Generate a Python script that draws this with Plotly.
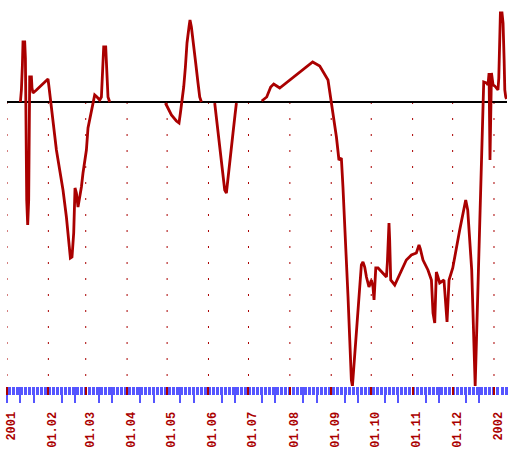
import pandas as pd
import plotly.graph_objects as go

START = pd.Timestamp("2001-01-01")

# Day offsets from 2001-01-01 and index values (None marks a gap in the data)
day_offsets = [
    10.04, 10.79, 11.54, 11.99, 13.27, 13.79, 14.02, 14.77, 15.51, 16.26, 17.01,
    18.29, 18.74, 19.49, 22.04, 25.78, 29.53, 30.73, 31.48, 32.53, 34.48, 37.03,
    39.50, 41.97, 44.52, 46.47, 47.52, 48.72, 49.99, 50.97, 52.02, 53.22, 54.49,
    55.76, 56.96, 59.51, 60.71, 62.51, 64.46, 65.73, 67.46, 69.48, 70.75, 71.50,
    72.48, 73.98, 74.50, 75.70, 76.97,
    100.0,
    118.72, 120.67, 123.22, 126.97, 128.92, 129.97, 131.17, 132.44, 133.71,
    134.91, 136.41, 137.16, 138.21, 139.41, 141.43, 143.16, 144.43, 145.71,
    150.0,
    155.67, 156.95, 158.15, 159.42, 160.69, 161.89, 163.17, 164.44, 164.89,
    166.16, 167.66, 169.39, 170.89, 171.94,
    180.0,
    190.9, 194.65, 197.65, 199.9, 202.15, 204.4, 229.1, 234.4, 240.6, 243.2,
    246.9, 248.8, 250.6, 251.8, 253.1, 254.4, 255.6, 256.9, 258.1, 258.9, 259.9,
    261.4, 263.1, 264.4, 265.6, 266.8, 268.1, 269.4, 271.3, 273.1, 274.3, 275.1,
    276.4, 278.1, 281.8, 284.4, 285.1, 286.3, 286.8, 287.6, 290.6, 293.0, 295.6,
    299.3, 303.1, 306.8, 308.8, 309.8, 311.8, 315.5, 318.1, 319.3, 320.6, 321.8,
    323.0, 324.3, 327.5, 328.8, 329.8, 331.3, 334.1, 339.3, 343.8, 345.3, 348.3,
    350.9, 352.8, 355.0, 356.8, 357.3, 359.3, 360.5, 361.3, 362.0, 363.1, 364.3,
    365.6, 366.8, 368.0, 368.6, 369.3, 369.8, 371.0, 371.8, 372.6, 373.1, 373.8,
    374.4,
]
values = [
    0, 12, 37, 60, 60, 44, 12, -98, -123, -98, 25,
    25, 14, 9, 12, 17, 22, 23, 15, 2, -21, -48,
    -68, -88, -115, -145, -156, -155, -131, -86, -91, -105, -95,
    -85, -71, -48, -26, -13, 0, 7, 5, 2, 5, 25,
    55, 55, 35, 5, 0,
    None,
    -1, -6, -13, -19, -21, -11, 2, 15, 35,
    59, 75, 82, 75, 59, 39, 19, 5, 0,
    None,
    -1, -15, -31, -45, -58, -75, -88, -91, -85,
    -71, -55, -31, -13, -1,
    None,
    1, 5, 15, 18, 16, 14, 40, 36, 22, 0,
    -35, -58, -56, -85, -118, -161, -195, -238, -278, -284, -265,
    -238, -211, -185, -163, -160, -165, -175, -185, -178, -185, -198,
    -166, -166, -171, -175, -160, -121, -138, -178, -183, -176, -168,
    -158, -153, -151, -143, -147, -158, -168, -178, -211, -221, -170,
    -175, -181, -178, -205, -220, -178, -166, -128, -98, -108, -168,
    -284, -188, -98, -5, 20, 19, 17, 29, -58, 29, 17,
    16, 14, 12, 24, 62, 89, 89, 79, 42, 12, 5,
    3,
]
month_labels = ["2001", "01.02", "01.03", "01.04", "01.05", "01.06", "01.07",
                "01.08", "01.09", "01.10", "01.11", "01.12", "2002"]

dates = START + pd.to_timedelta(day_offsets, unit="D")
month_starts = pd.date_range("2001-01-01", "2002-01-01", freq="MS")
month_str = [m.strftime("%Y-%m-%d") for m in month_starts]
long_ticks = ["2001-01-01"] + [(m + pd.Timedelta(days=k)).strftime("%Y-%m-%d")
                               for m in month_starts[:-1] for k in (10, 20)]
x_range = [START.strftime("%Y-%m-%d"),
           (START + pd.Timedelta(days=374.75)).strftime("%Y-%m-%d %H:%M")]
y_range = [-284, 102]

RED = "#aa0000"
BLUE = "#5555ff"

fig = go.Figure()
fig.add_trace(go.Scatter(x=dates, y=values, mode="lines",
                         line=dict(color=RED, width=2.8),
                         connectgaps=False, hoverinfo="skip", showlegend=False))
# empty helper traces so the overlaid tick axes are drawn
fig.add_trace(go.Scatter(x=x_range, y=[None, None], xaxis="x2", yaxis="y",
                         mode="lines", hoverinfo="skip", showlegend=False))
fig.add_trace(go.Scatter(x=x_range, y=[None, None], xaxis="x3", yaxis="y",
                         mode="lines", hoverinfo="skip", showlegend=False))

# dotted month gridlines below the zero line
for m in month_str:
    fig.add_shape(type="line", xref="x", yref="y", x0=m, x1=m, y0=0, y1=y_range[0],
                  line=dict(color=RED, width=1, dash="2px,14px"), layer="below")

fig.update_layout(
    width=512, height=453,
    margin=dict(l=7, r=5, t=0, b=67),
    paper_bgcolor="white", plot_bgcolor="white",
    showlegend=False,
    xaxis=dict(type="date", range=x_range, showgrid=False, zeroline=False,
               showline=False, showticklabels=False,
               tickmode="linear", tick0="2001-01-03", dtick=3 * 86400000,
               ticks="outside", ticklen=8, tickwidth=3, tickcolor=BLUE),
    xaxis2=dict(type="date", range=x_range, overlaying="x", anchor="y", side="bottom",
                showgrid=False, zeroline=False, showline=False,
                tickmode="array", tickvals=long_ticks, ticktext=["."] * len(long_ticks),
                tickfont=dict(size=4, color="white"),
                ticks="outside", ticklen=16, tickwidth=1.6, tickcolor=BLUE),
    xaxis3=dict(type="date", range=x_range, overlaying="x", anchor="y", side="bottom",
                showgrid=False, zeroline=False, showline=False,
                tickmode="array", tickvals=month_str, ticktext=month_labels,
                ticks="outside", ticklen=8, tickwidth=2, tickcolor=RED,
                tickangle=-90, ticklabelstandoff=12, ticklabelshift=4,
                tickfont=dict(family="Liberation Mono", size=12, color=RED, weight="bold")),
    yaxis=dict(range=y_range, showgrid=False, showticklabels=False, ticks="",
               showline=False, zeroline=True, zerolinecolor="black", zerolinewidth=2),
)

fig.write_html("out.html")
